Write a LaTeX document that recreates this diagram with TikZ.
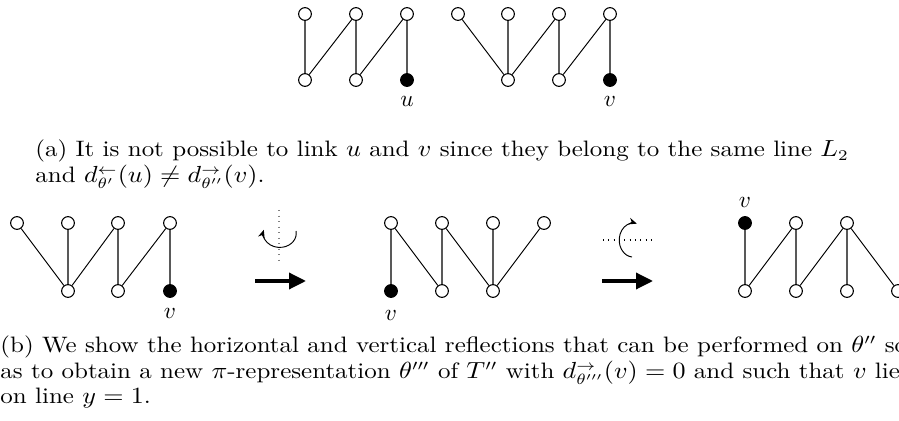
\documentclass[tikz,border=0pt]{standalone}
\usetikzlibrary{arrows.meta}
\newcommand{\stretchtxt}[1]{\scalebox{1.12}[1]{#1}}
\begin{document}
\begin{tikzpicture}[x=0.4706pt,y=-0.4706pt,
  wn/.style={circle,draw,line width=0.5pt,fill=white,minimum size=6pt,inner sep=0pt},
  bn/.style={circle,draw,line width=0.5pt,fill=black,minimum size=6pt,inner sep=0pt},
  ve/.style={draw=black!65,line width=0.6pt},
  de/.style={draw=black,line width=0.45pt},
  bigarrow/.style={line width=1.7pt,-{Triangle[length=8pt,width=7.5pt]}},
  rot/.style={line width=0.45pt,-{Stealth[length=3.8pt,width=3.2pt]}},
  lab/.style={inner sep=0pt,font=\fontsize{10.5}{12.6}\selectfont},
  captext/.style={anchor=base west,inner sep=0pt,font=\fontsize{10.5}{12.6}\selectfont}]
\useasboundingbox (0,0) rectangle (899,421);
% ---------- (a) left graph
\node[wn] (a1) at (305,14) {};
\node[wn] (a2) at (356,14) {};
\node[wn] (a3) at (407,14) {};
\node[wn] (a4) at (305,80) {};
\node[wn] (a5) at (356,80) {};
\node[bn] (a6) at (407,80) {};
\draw[ve] (a1) -- (a4);
\draw[ve] (a2) -- (a5);
\draw[ve] (a3) -- (a6);
\draw[de] (a4) -- (a2);
\draw[de] (a5) -- (a3);
\node[lab] (lu) at (407,101) {$u$};
% ---------- (a) right graph
\node[wn] (b1) at (458,14) {};
\node[wn] (b2) at (508,14) {};
\node[wn] (b3) at (559,14) {};
\node[wn] (b4) at (610,14) {};
\node[wn] (b5) at (508,80) {};
\node[wn] (b6) at (559,80) {};
\node[bn] (b7) at (610,80) {};
\draw[de] (b1) -- (b5);
\draw[ve] (b2) -- (b5);
\draw[de] (b5) -- (b3);
\draw[ve] (b3) -- (b6);
\draw[de] (b6) -- (b4);
\draw[ve] (b4) -- (b7);
\node[lab] (lv1) at (610,101) {$v$};
% ---------- caption (a)
\node[captext] (ca1) at (35,157) {\stretchtxt{(a) It is not possible to link $u$ and $v$ since they belong to the same line $L_2$}};
\node[captext] (ca2) at (35,183) {\stretchtxt{and $d^{\leftarrow}_{\theta'}(u)\neq d^{\rightarrow}_{\theta''}(v)$.}};
% ---------- (b) left graph
\node[wn] (c1) at (17,223) {};
\node[wn] (c2) at (68,223) {};
\node[wn] (c3) at (118,223) {};
\node[wn] (c4) at (170,223) {};
\node[wn] (c5) at (68,291) {};
\node[wn] (c6) at (118,291) {};
\node[bn] (c7) at (170,291) {};
\draw[de] (c1) -- (c5);
\draw[ve] (c2) -- (c5);
\draw[de] (c5) -- (c3);
\draw[ve] (c3) -- (c6);
\draw[de] (c6) -- (c4);
\draw[ve] (c4) -- (c7);
\node[lab] (lv2) at (170,313) {$v$};
% ---------- first transformation
\coordinate (m1s) at (279,210);
\coordinate (m1e) at (279,260);
\draw[dotted,draw=black!50,line width=0.6pt] (m1s) -- (m1e);
\coordinate (r1s) at (296,231);
\draw[rot] (r1s) arc[start angle=-10,end angle=195,x radius=16.5,y radius=14];
\coordinate (A1s) at (255,281);
\coordinate (A1e) at (306,281);
\draw[bigarrow] (A1s) -- (A1e);
% ---------- (b) middle graph
\node[wn] (d1) at (391,223) {};
\node[wn] (d2) at (442,223) {};
\node[wn] (d3) at (493,223) {};
\node[wn] (d4) at (544,223) {};
\node[bn] (d5) at (391,291) {};
\node[wn] (d6) at (442,291) {};
\node[wn] (d7) at (493,291) {};
\draw[ve] (d1) -- (d5);
\draw[de] (d1) -- (d6);
\draw[ve] (d2) -- (d6);
\draw[de] (d2) -- (d7);
\draw[ve] (d3) -- (d7);
\draw[de] (d4) -- (d7);
\node[lab] (lv3) at (391,315) {$v$};
% ---------- second transformation
\coordinate (m2s) at (603,240);
\coordinate (m2e) at (652,240);
\draw[dotted,line width=0.5pt] (m2s) -- (m2e);
\coordinate (r2s) at (632,257);
\draw[rot] (r2s) arc[start angle=95,end angle=285,x radius=14,y radius=17];
\coordinate (A2s) at (602,281);
\coordinate (A2e) at (653,281);
\draw[bigarrow] (A2s) -- (A2e);
% ---------- (b) right graph
\node[bn] (e1) at (745,223) {};
\node[wn] (e2) at (796,223) {};
\node[wn] (e3) at (847,223) {};
\node[wn] (e4) at (745,291) {};
\node[wn] (e5) at (796,291) {};
\node[wn] (e6) at (847,291) {};
\node[wn] (e7) at (898,291) {};
\draw[ve] (e1) -- (e4);
\draw[de] (e4) -- (e2);
\draw[ve] (e2) -- (e5);
\draw[de] (e5) -- (e3);
\draw[ve] (e3) -- (e6);
\draw[de] (e3) -- (e7);
\node[lab] (lv4) at (745,202) {$v$};
% ---------- caption (b)
\node[captext] (cb1) at (0,353) {\stretchtxt{(b) We show the horizontal and vertical reflections that can be performed on $\theta''$ so}};
\node[captext] (cb2) at (0,379) {\stretchtxt{as to obtain a new $\pi$-representation $\theta'''$ of $T''$ with $d^{\rightarrow}_{\theta'''}(v)=0$ and such that $v$ lies}};
\node[captext] (cb3) at (0,404) {\stretchtxt{on line $y=1$.}};
\end{tikzpicture}
\end{document}
